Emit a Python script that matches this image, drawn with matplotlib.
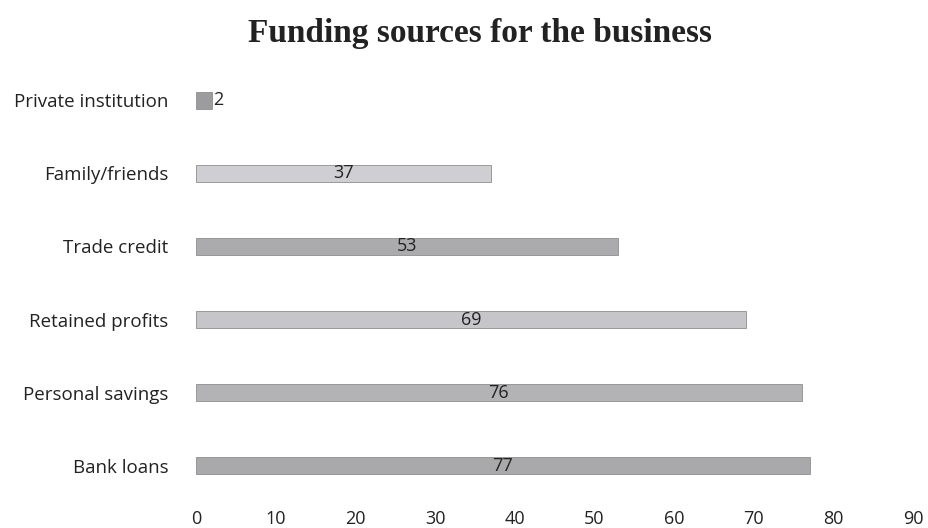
import matplotlib
matplotlib.use("Agg")
import matplotlib.pyplot as plt

# ── data ─────────────────────────────────────────────────────────────
categories = ["Bank loans", "Personal savings", "Retained profits",
              "Trade credit", "Family/friends", "Private institution"]
values = [77, 76, 69, 53, 37, 2]
bar_colors = ["#a9a9ab", "#b3b3b6", "#c6c6ca", "#ababad", "#cfcfd3", "#9c9c9e"]
xticks = list(range(0, 100, 10))

# ── figure ───────────────────────────────────────────────────────────
fig = plt.figure(figsize=(9.29, 5.28), dpi=100)
ax = fig.add_axes([0.211, 0.049, 0.772, 0.830])

y = list(range(len(categories)))
ax.barh(y, values, height=0.23, color=bar_colors,
        edgecolor="#8e8e90", linewidth=0.6)

for yi, v in zip(y, values):
    if v < 5:
        ax.text(v + 0.2, yi, str(v), ha="left", va="center",
                fontsize=13, family="Open Sans", color="#222222")
    else:
        ax.text(v / 2, yi, str(v), ha="center", va="center",
                fontsize=13, family="Open Sans", color="#222222")

ax.set_xlim(0, 90)
ax.set_ylim(-0.5, len(categories) - 0.5)
ax.set_xticks(xticks)
ax.set_yticks(y)
ax.set_yticklabels(categories, family="Open Sans", fontsize=13.5, color="#222222")
for lbl in ax.get_xticklabels():
    lbl.set_family("Open Sans")
    lbl.set_fontsize(13)
    lbl.set_color("#222222")
ax.tick_params(axis="both", length=0)
ax.tick_params(axis="y", pad=20)
ax.tick_params(axis="x", pad=6)
for s in ax.spines.values():
    s.set_visible(False)

fig.text(0.517, 0.937, "Funding sources for the business", ha="center",
         va="center", family="Liberation Serif", fontweight="bold",
         fontsize=24, color="#222222")

fig.savefig("out.png", dpi=100)
